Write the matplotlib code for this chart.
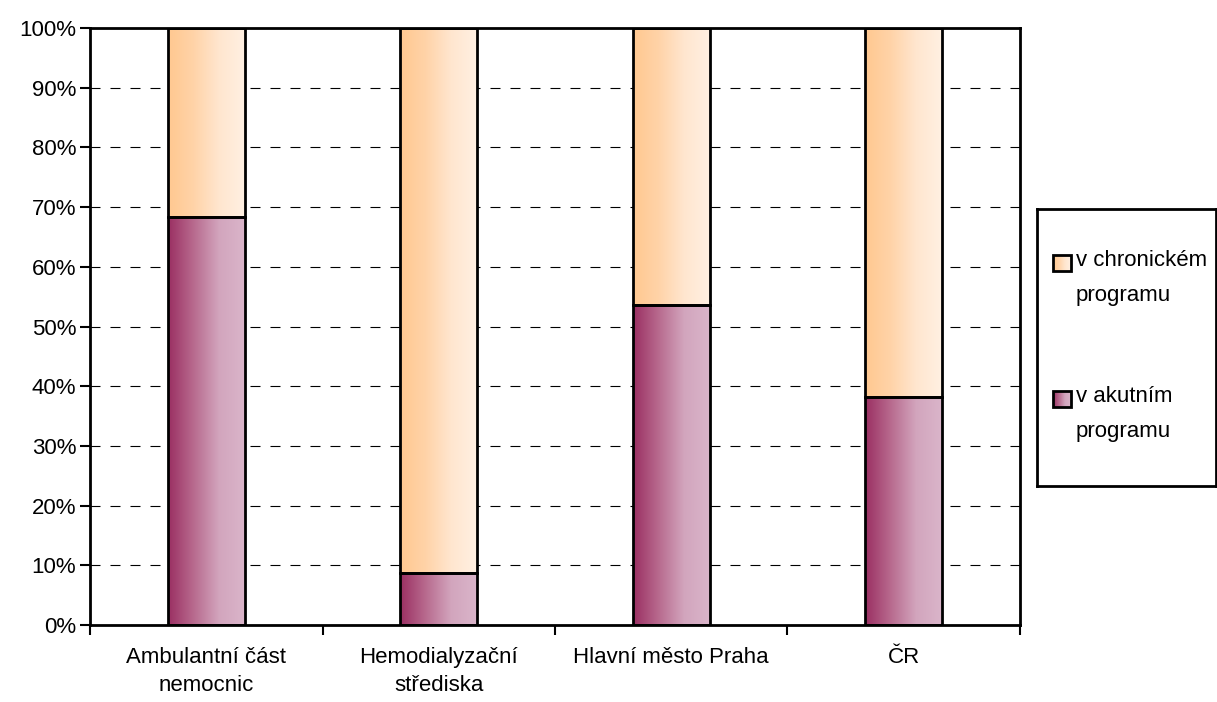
import numpy as np
import matplotlib
matplotlib.use("Agg")
import matplotlib.pyplot as plt
from matplotlib.colors import LinearSegmentedColormap
from matplotlib.patches import Rectangle

plt.rcParams['font.family'] = ['Liberation Sans', 'DejaVu Sans']

categories = ["Ambulantní část\nnemocnic", "Hemodialyzační\nstřediska", "Hlavní město Praha", "ČR"]
akutni = [68.3, 8.7, 53.6, 38.2]          # % v akutním programu
chronicke = [100 - v for v in akutni]     # % v chronickém programu
series_names = ["v chronickém\nprogramu", "v akutním\nprogramu"]
yticks = list(range(0, 101, 10))

cm_akut = LinearSegmentedColormap.from_list("akut", ["#9a2f62", "#b86a8e", "#d2a5bd", "#dab5ca"])
cm_chron = LinearSegmentedColormap.from_list("chron", ["#ffc890", "#ffd3a8", "#ffe6cf", "#fff0e2"])
grad = np.linspace(0, 1, 256).reshape(1, -1)


def grad_fill(ax, patch, cmap):
    x, y = patch.get_x(), patch.get_y()
    w, h = patch.get_width(), patch.get_height()
    im = ax.imshow(grad, cmap=cmap, aspect="auto", extent=(x, x + w, y, y + h),
                   origin="lower", zorder=2, interpolation="bilinear")
    im.set_clip_path(patch)


fig = plt.figure(figsize=(12.17, 7.02), dpi=100)
ax = fig.add_axes([0.074, 0.1097, 0.764, 0.8503])

xpos = np.arange(len(categories))
bw = 0.33
b1 = ax.bar(xpos, akutni, bw, facecolor="none", edgecolor="black", lw=2, zorder=3)
b2 = ax.bar(xpos, chronicke, bw, bottom=akutni, facecolor="none", edgecolor="black", lw=2, zorder=3)
for p in b1:
    grad_fill(ax, p, cm_akut)
for p in b2:
    grad_fill(ax, p, cm_chron)

ax.set_xlim(-0.5, len(categories) - 0.5)
ax.set_ylim(0, 100)
ax.set_yticks(yticks)
ax.set_yticklabels([f"{t}%" for t in yticks], fontsize=16)
ax.yaxis.grid(True, color="black", linestyle=(0, (9, 9)), lw=0.8)
ax.set_axisbelow(True)
ax.set_xticks(xpos)
ax.set_xticklabels(categories, fontsize=16, linespacing=1.4)
ax.set_xticks(np.arange(len(categories) + 1) - 0.5, minor=True)
ax.tick_params(axis="x", which="major", length=0, pad=16)
ax.tick_params(axis="x", which="minor", length=7, width=1.5, direction="out")
ax.tick_params(axis="y", length=7, width=1.5, direction="out", pad=3)
for s in ax.spines.values():
    s.set_linewidth(2)

# legend box
lax = fig.add_axes([0.852, 0.3077, 0.147, 0.3946])
lax.set_xticks([])
lax.set_yticks([])
for s in lax.spines.values():
    s.set_linewidth(2)
for (sq_y, cmap, name) in [(46, cm_chron, series_names[0]), (182, cm_akut, series_names[1])]:
    r = Rectangle((16, sq_y), 18, 16, facecolor="none", edgecolor="black", lw=2, zorder=3)
    lax.add_patch(r)
    im = lax.imshow(grad, cmap=cmap, aspect="auto", extent=(16, 34, sq_y + 16, sq_y),
                    zorder=2, interpolation="bilinear")
    im.set_clip_path(r)
    lax.text(39, sq_y - 5, name, fontsize=16, va="top", ha="left", linespacing=1.85)
lax.set_xlim(0, 180)
lax.set_ylim(277, 0)

fig.savefig("out.png", dpi=100)
